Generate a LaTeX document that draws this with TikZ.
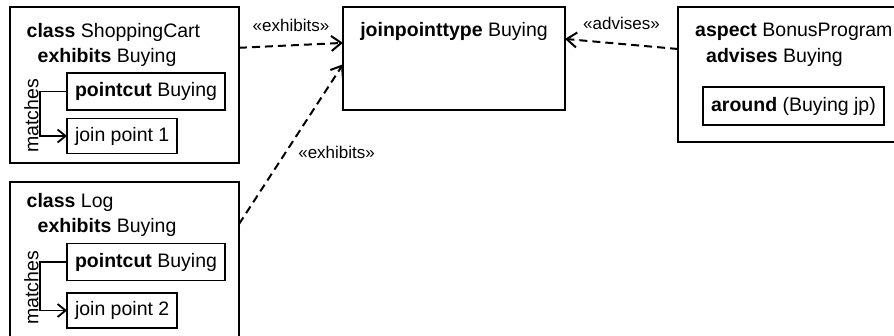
\documentclass[tikz,border=0pt]{standalone}
\usepackage{fontspec}
\setmainfont{Liberation Sans}
\usetikzlibrary{arrows.meta,positioning}
\tikzset{
    %Define standard arrow tip
    >={Straight Barb[length=10pt,width=15pt]},
    %Define style for boxes
    classbox/.style={
           rectangle,
           draw=black, line width=1.8pt,
           anchor=north west,
           inner sep=0pt, outer sep=0pt},
    innerbox/.style={
           rectangle,
           draw=black, line width=1.8pt,
           anchor=north west,
           inner xsep=8pt, outer sep=0pt,
           minimum height=37pt,
           text centered},
    head/.style={
           anchor=base west,
           inner sep=0pt},
    % Define arrow styles
    dep/.style={
           ->,
           line width=2pt,
           dash pattern=on 8pt off 5pt},
    match/.style={
           -{Straight Barb[length=8pt,width=13pt]},
           line width=1.8pt},
    stereo/.style={
           font=\fontsize{17}{20}\selectfont,
           inner sep=0pt}
}

\begin{document}
\begin{tikzpicture}[x=1pt,y=-1pt,font=\fontsize{19.5}{23}\selectfont]
\useasboundingbox (0,0) rectangle (894,335);
\clip (0,0) rectangle (894,335);

% class ShoppingCart
\node[classbox, minimum width=229pt, minimum height=156pt] (cart) at (10,7) {};
\node[head] (carttitle) at (26.5,37.8) {\textbf{class} ShoppingCart};
\node[head] (cartexh) at (37.5,62) {\textbf{exhibits} Buying};
\node[innerbox, minimum width=158pt] (cartpc) at (67,73) {\textbf{pointcut} Buying};
\node[innerbox, minimum width=110pt, minimum height=35pt] (cartjp) at (67,118.5) {join point 1};
\node[rotate=90, inner sep=0pt] (cartmatch) at (31.5,116) {matches};
\draw[match] (cartpc.west) -- ++(-27,0) |- (cartjp.west);

% class Log
\node[classbox, minimum width=229pt, minimum height=163pt] (log) at (10,182) {};
\node[head] (logtitle) at (26.5,207.5) {\textbf{class} Log};
\node[head] (logexh) at (37.5,232.5) {\textbf{exhibits} Buying};
\node[innerbox, minimum width=158pt] (logpc) at (67,243.5) {\textbf{pointcut} Buying};
\node[innerbox, minimum width=110pt, minimum height=35pt] (logjp) at (67,293) {join point 2};
\node[rotate=90, inner sep=0pt] (logmatch) at (31.5,288) {matches};
\draw[match] (logpc.west) -- ++(-27,0) |- (logjp.west);

% joinpointtype
\node[classbox, minimum width=222pt, minimum height=103pt] (jpt) at (343,7) {};
\node[head, anchor=base] (jpttitle) at (454,36.7) {\textbf{joinpointtype} Buying};

% aspect BonusProgram
\node[classbox, minimum width=240pt, minimum height=135pt] (asp) at (678,7) {};
\node[head] (asptitle) at (695,36) {\textbf{aspect} BonusProgram};
\node[head] (aspadv) at (706,62) {\textbf{advises} Buying};
\node[innerbox, minimum width=181pt, minimum height=38pt] (around) at (703,87) {\textbf{around} (Buying jp)};

% dependencies
\draw (cart.18) edge[dep] node[stereo, above=13pt] {«exhibits»} (jpt.172);
\draw (log.19) edge[dep] node[stereo, pos=0.45, right=11.5pt] {«exhibits»} (jpt.183);
\draw (asp.168) edge[dep] node[stereo, above=13pt] {«advises»} (jpt.10);

\end{tikzpicture}
\end{document}
